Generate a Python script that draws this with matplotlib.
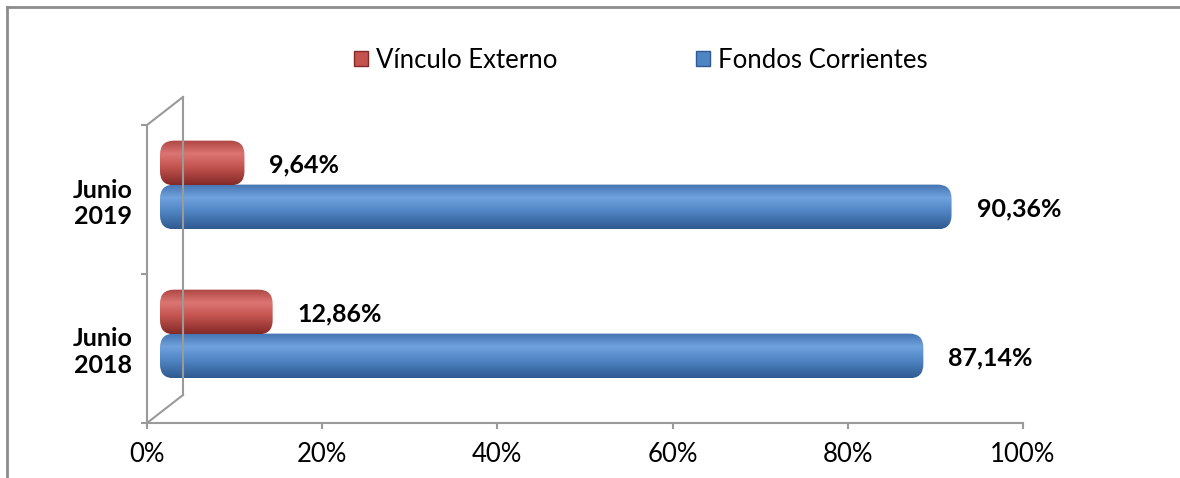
import matplotlib.pyplot as plt
import numpy as np
import matplotlib.transforms as mtransforms
from matplotlib.patches import FancyBboxPatch, Patch
from matplotlib.lines import Line2D
from matplotlib.colors import to_rgb

plt.rcParams['font.family'] = ['Lato', 'DejaVu Sans']

# Datos
categorias = ['Junio\n2018', 'Junio\n2019']
fondos_corrientes = [87.14, 90.36]
vinculo_externo = [12.86, 9.64]
etiquetas_fondos = ['87,14%', '90,36%']
etiquetas_vinculo = ['12,86%', '9,64%']
ticks_x = [0, 20, 40, 60, 80, 100]
ticks_x_labels = ['0%', '20%', '40%', '60%', '80%', '100%']

# colores del cilindro (borde sup, brillo, medio, borde inf)
tonos_azul = ['#4373b0', '#70a2de', '#5085c4', '#2f5a90']
tonos_rojo = ['#ad4643', '#dc7673', '#c4534f', '#832a28']
gris = '#9a9a9a'

W, H, DPI = 11.8, 4.78, 100
fig = plt.figure(figsize=(W, H), dpi=DPI)
ax = fig.add_axes([147 / 1180, 55 / 478, 876 / 1180, 298 / 478])
ax.set_xlim(0, 100)
ax.set_ylim(0, 2)

px_x = 876 / 100   # pixeles por unidad x
px_y = 298 / 2     # pixeles por unidad y
desplaz = mtransforms.ScaledTranslation(13 / DPI, 0, fig.dpi_scale_trans)
trans_barra = ax.transData + desplaz


def gradiente(tonos, n=100):
    pos = [0.0, 0.3, 0.6, 1.0]
    cols = np.array([to_rgb(c) for c in tonos])
    t = np.linspace(0, 1, n)
    arr = np.stack([np.interp(t, pos, cols[:, k]) for k in range(3)], axis=-1)
    return arr[:, None, :]


def barra_cilindro(y0, ancho, alto, tonos):
    r = 14
    patch = FancyBboxPatch((0, y0), ancho, alto,
                           boxstyle=f'round,pad=0,rounding_size={r / px_x}',
                           mutation_aspect=px_x / px_y,
                           facecolor='none', edgecolor='none',
                           transform=trans_barra)
    ax.add_patch(patch)
    im = ax.imshow(gradiente(tonos), extent=(0, ancho + 1.0, y0, y0 + alto),
                   aspect='auto', transform=trans_barra, interpolation='bilinear',
                   zorder=2)
    im.set_clip_path(patch)


alto = 0.30
for i in range(len(categorias)):
    barra_cilindro(i + 0.45 - alto / 2, fondos_corrientes[i], alto, tonos_azul)
    barra_cilindro(i + 0.745 - alto / 2, vinculo_externo[i], alto, tonos_rojo)
    ax.annotate(etiquetas_fondos[i], xy=(fondos_corrientes[i], i + 0.44),
                xytext=(38, 0), textcoords='offset pixels', va='center', ha='left',
                fontsize=18, fontweight='bold')
    ax.annotate(etiquetas_vinculo[i], xy=(vinculo_externo[i], i + 0.73),
                xytext=(38, 0), textcoords='offset pixels', va='center', ha='left',
                fontsize=18, fontweight='bold')

ax.set_xlim(0, 100)
ax.set_ylim(0, 2)

# ejes
for s in ['top', 'right']:
    ax.spines[s].set_visible(False)
for s in ['left', 'bottom']:
    ax.spines[s].set_color(gris)
    ax.spines[s].set_linewidth(1.5)

ax.set_xticks(ticks_x)
ax.set_xticklabels(ticks_x_labels, fontsize=18.5)
ax.tick_params(axis='x', length=4.5, width=1.5, color=gris, pad=9)

ax.set_yticks([0.5, 1.5])
ax.set_yticklabels(categorias, fontsize=18, fontweight='bold')
ax.tick_params(axis='y', which='major', length=0, pad=32)
for lbl in ax.get_yticklabels():
    lbl.set_horizontalalignment('center')
    lbl.set_multialignment('center')
ax.set_yticks([0, 1, 2], minor=True)
ax.tick_params(axis='y', which='minor', length=4.5, width=1.5, color=gris)

# pared 3D
dx, dy = 36 / 876, 28 / 298
ax.plot([0, dx], [0, dy], transform=ax.transAxes, color=gris, lw=1.5, clip_on=False)
ax.plot([0, dx], [1, 1 + dy], transform=ax.transAxes, color=gris, lw=1.5, clip_on=False)
ax.plot([dx, dx], [dy, 1 + dy], transform=ax.transAxes, color=gris, lw=1.5, clip_on=False)

# leyenda
handles = [Patch(facecolor=tonos_rojo[2], edgecolor=tonos_rojo[3]),
           Patch(facecolor=tonos_azul[2], edgecolor=tonos_azul[3])]
fig.legend(handles, ['Vínculo Externo', 'Fondos Corrientes'], loc='center',
           bbox_to_anchor=(0.543, 0.874), ncol=2, frameon=False, fontsize=18.5,
           handlelength=0.55, handleheight=0.55, handletextpad=0.3,
           columnspacing=5.4)

# marco
fig.add_artist(Line2D([7 / 1180, 1.01], [1 - 7 / 478] * 2, transform=fig.transFigure,
                      color='#8c8c8c', lw=2))
fig.add_artist(Line2D([7 / 1180] * 2, [-0.01, 1 - 7 / 478], transform=fig.transFigure,
                      color='#8c8c8c', lw=2))

fig.savefig('out.png', dpi=DPI)
